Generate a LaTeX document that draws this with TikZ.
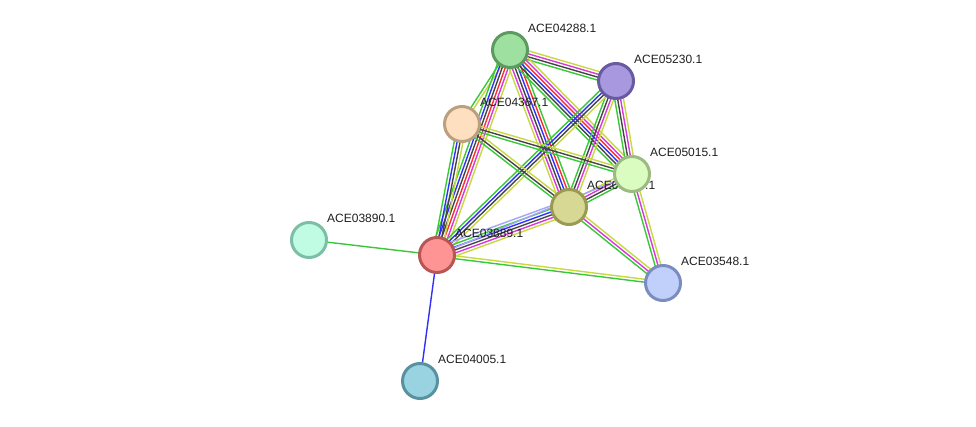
\documentclass[tikz,border=0pt]{standalone}
\usepackage{fontspec}
\setmainfont{Liberation Sans}
\usetikzlibrary{calc}
\pgfdeclarelayer{edges}
\pgfsetlayers{edges,main}

% node colours
\definecolor{f04288}{RGB}{158,224,160} \definecolor{d04288}{RGB}{92,155,96}
\definecolor{f05230}{RGB}{168,152,224} \definecolor{d05230}{RGB}{104,90,160}
\definecolor{f04367}{RGB}{254,224,192} \definecolor{d04367}{RGB}{186,160,126}
\definecolor{f05015}{RGB}{218,252,192} \definecolor{d05015}{RGB}{156,186,130}
\definecolor{fmid}{RGB}{214,216,148}   \definecolor{dmid}{RGB}{154,154,80}
\definecolor{f03889}{RGB}{255,148,148} \definecolor{d03889}{RGB}{184,86,86}
\definecolor{f03890}{RGB}{192,252,228} \definecolor{d03890}{RGB}{124,190,166}
\definecolor{f03548}{RGB}{192,208,250} \definecolor{d03548}{RGB}{124,140,190}
\definecolor{f04005}{RGB}{153,210,224} \definecolor{d04005}{RGB}{88,145,160}
% edge colours
\definecolor{eGreen}{RGB}{56,200,56}
\definecolor{eBlue}{RGB}{48,48,250}
\definecolor{eRed}{RGB}{250,48,48}
\definecolor{eMag}{RGB}{216,56,216}
\definecolor{eBlk}{RGB}{68,68,68}
\definecolor{eYel}{RGB}{200,216,64}
\definecolor{eLav}{RGB}{164,164,250}

% parallel coloured lines between two proteins: from, to, count, colours
\newcommand{\strlink}[4]{%
  \foreach \c [count=\i] in {#4} {
    \pgfmathsetmacro{\off}{(\i-(#3+1)/2)*2.9}
    \draw[\c, line width=1.4pt] ($(#1.center)!\off pt!90:(#2.center)$) -- ($(#2.center)!\off pt!-90:(#1.center)$);
  }}

\begin{document}
\begin{tikzpicture}[x=1pt, y=-1pt,
  prot/.style={circle, minimum size=35pt, inner sep=0pt, line width=3pt},
  lbl/.style={anchor=west, inner sep=0pt, font=\fontsize{12}{14}\selectfont, text=black!88}]
  \useasboundingbox (0,0) rectangle (976,427);
  % proteins, each with its name
  \node[prot, fill=f03890, draw=d03890] (a03890) at (309,240) {};
  \node[lbl] (l03890) at ($(a03890)+(18,-22)$) {ACE03890.1};
  \node[prot, fill=f04005, draw=d04005] (a04005) at (420,381) {};
  \node[lbl] (l04005) at ($(a04005)+(18,-22)$) {ACE04005.1};
  \node[prot, fill=f03548, draw=d03548] (a03548) at (663,283) {};
  \node[lbl] (l03548) at ($(a03548)+(18,-22)$) {ACE03548.1};
  \node[prot, fill=f03889, draw=d03889] (a03889) at (437,255) {};
  \node[lbl] (l03889) at ($(a03889)+(18,-22)$) {ACE03889.1};
  \node[prot, fill=f04367, draw=d04367] (a04367) at (462,124) {};
  \node[lbl] (l04367) at ($(a04367)+(18,-22)$) {ACE04367.1};
  \node[prot, fill=f04288, draw=d04288] (a04288) at (510,50) {};
  \node[lbl] (l04288) at ($(a04288)+(18,-22)$) {ACE04288.1};
  \node[prot, fill=f05230, draw=d05230] (a05230) at (616,81) {};
  \node[lbl] (l05230) at ($(a05230)+(18,-22)$) {ACE05230.1};
  \node[prot, fill=fmid, draw=dmid] (amid) at (569,207) {};
  \node[lbl] (lmid) at ($(amid)+(18,-22)$) {ACE05016.1};
  \node[prot, fill=f05015, draw=d05015] (a05015) at (632,174) {};
  \node[lbl] (l05015) at ($(a05015)+(18,-22)$) {ACE05015.1};
  % evidence lines behind the proteins
  \begin{pgfonlayer}{edges}
    \strlink{a04288}{a05230}{4}{eGreen,eBlk,eMag,eYel}
    \strlink{a04288}{a04367}{2}{eGreen,eYel}
    \strlink{a04288}{a03889}{6}{eGreen,eBlue,eBlk,eRed,eMag,eYel}
    \strlink{a04288}{amid}{6}{eYel,eMag,eBlk,eBlue,eRed,eGreen}
    \strlink{a04288}{a05015}{6}{eGreen,eBlk,eBlue,eRed,eMag,eYel}
    \strlink{a05230}{a05015}{4}{eGreen,eBlk,eMag,eYel}
    \strlink{a05230}{amid}{4}{eGreen,eBlk,eMag,eYel}
    \strlink{a05230}{a03889}{4}{eGreen,eBlue,eBlk,eYel}
    \strlink{a04367}{a05015}{3}{eGreen,eBlk,eYel}
    \strlink{a04367}{amid}{3}{eGreen,eBlk,eYel}
    \strlink{a04367}{a03889}{4}{eGreen,eBlue,eBlk,eYel}
    \strlink{amid}{a05015}{4}{eGreen,eBlk,eMag,eYel}
    \strlink{a03889}{amid}{6}{eYel,eMag,eBlk,eBlue,eGreen,eLav}
    \strlink{a03889}{a05015}{1}{eLav}
    \strlink{amid}{a03548}{3}{eGreen,eMag,eYel}
    \strlink{a05015}{a03548}{3}{eGreen,eMag,eYel}
    \strlink{a03889}{a03548}{2}{eGreen,eYel}
    \strlink{a03889}{a03890}{1}{eGreen}
    \strlink{a03889}{a04005}{1}{eBlue}
  \end{pgfonlayer}
\end{tikzpicture}
\end{document}
